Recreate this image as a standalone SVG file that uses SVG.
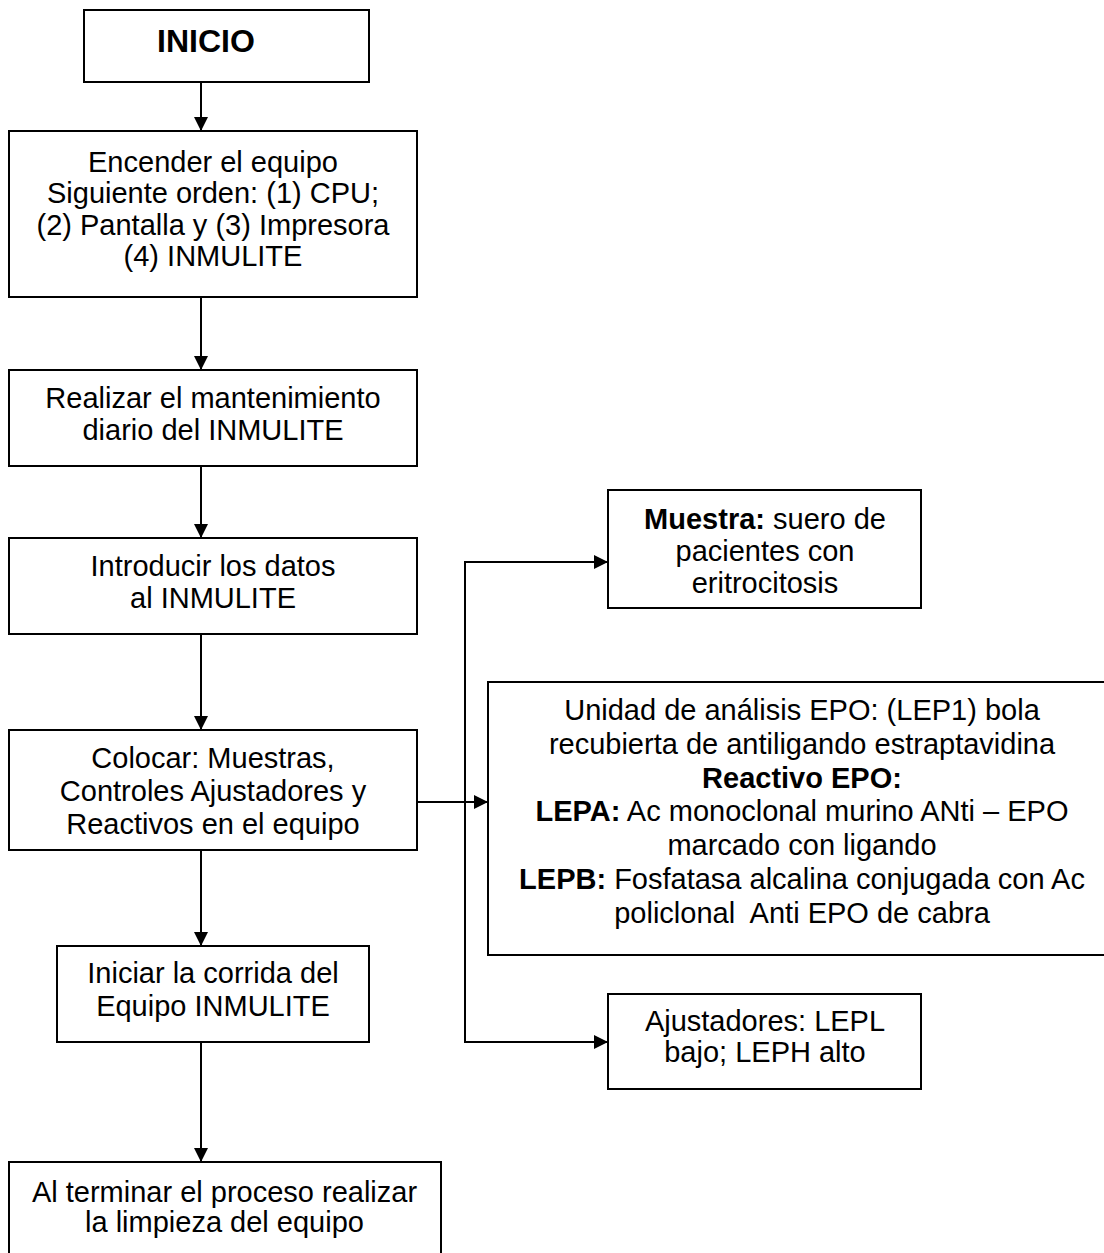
<svg xmlns="http://www.w3.org/2000/svg" width="1104" height="1253" viewBox="0 0 1104 1253">
<style>
.box{fill:#fff;stroke:#000;stroke-width:2}
.t{font-family:"Liberation Sans",Arial,sans-serif;font-size:29px;fill:#000;text-anchor:middle}
.b{font-weight:bold}
.c{fill:none;stroke:#000;stroke-width:2}
</style>
<defs>
<marker id="ah" markerUnits="userSpaceOnUse" markerWidth="14" markerHeight="14" viewBox="0 0 14 14" refX="14" refY="7" orient="auto">
<path d="M0,0 L14,7 L0,14 Z" fill="#000"/>
</marker>
</defs>
<rect width="1104" height="1253" fill="#fff"/>
<g id="connectors">
<line class="c" x1="201" y1="82" x2="201" y2="131" marker-end="url(#ah)"/>
<line class="c" x1="201" y1="297" x2="201" y2="370" marker-end="url(#ah)"/>
<line class="c" x1="201" y1="466" x2="201" y2="538" marker-end="url(#ah)"/>
<line class="c" x1="201" y1="634" x2="201" y2="730" marker-end="url(#ah)"/>
<line class="c" x1="201" y1="850" x2="201" y2="946" marker-end="url(#ah)"/>
<line class="c" x1="201" y1="1042" x2="201" y2="1162" marker-end="url(#ah)"/>
<line class="c" x1="417" y1="802" x2="488" y2="802" marker-end="url(#ah)"/>
<line class="c" x1="465" y1="561" x2="465" y2="1043"/>
<line class="c" x1="464" y1="562" x2="608" y2="562" marker-end="url(#ah)"/>
<line class="c" x1="464" y1="1042" x2="608" y2="1042" marker-end="url(#ah)"/>
</g>
<g id="inicio">
<rect class="box" x="84" y="10" width="285" height="72"/>
<text class="t b" x="206" y="52" style="font-size:32px">INICIO</text>
</g>
<g id="encender">
<rect class="box" x="9" y="131" width="408" height="166"/>
<text class="t" x="213" y="172">Encender el equipo</text>
<text class="t" x="213" y="203.3">Siguiente orden: (1) CPU;</text>
<text class="t" x="213" y="234.6">(2) Pantalla y (3) Impresora</text>
<text class="t" x="213" y="265.9">(4) INMULITE</text>
</g>
<g id="realizar">
<rect class="box" x="9" y="370" width="408" height="96"/>
<text class="t" x="213" y="408.3">Realizar el mantenimiento</text>
<text class="t" x="213" y="440">diario del INMULITE</text>
</g>
<g id="introducir">
<rect class="box" x="9" y="538" width="408" height="96"/>
<text class="t" x="213" y="575.7">Introducir los datos</text>
<text class="t" x="213" y="608">al INMULITE</text>
</g>
<g id="colocar">
<rect class="box" x="9" y="730" width="408" height="120"/>
<text class="t" x="213" y="768">Colocar: Muestras,</text>
<text class="t" x="213" y="801">Controles Ajustadores y</text>
<text class="t" x="213" y="834">Reactivos en el equipo</text>
</g>
<g id="iniciar">
<rect class="box" x="57" y="946" width="312" height="96"/>
<text class="t" x="213" y="983">Iniciar la corrida del</text>
<text class="t" x="213" y="1016">Equipo INMULITE</text>
</g>
<g id="terminar">
<rect class="box" x="9" y="1162" width="432" height="110"/>
<text class="t" x="224.5" y="1201.7">Al terminar el proceso realizar</text>
<text class="t" x="224.5" y="1232.3">la limpieza del equipo</text>
</g>
<g id="muestra">
<rect class="box" x="608" y="490" width="313" height="118"/>
<text class="t" x="765" y="529"><tspan class="b">Muestra:</tspan> suero de</text>
<text class="t" x="765" y="561">pacientes con</text>
<text class="t" x="765" y="593">eritrocitosis</text>
</g>
<g id="reactivos">
<rect class="box" x="488" y="682" width="628" height="273"/>
<text class="t" x="802" y="720">Unidad de análisis EPO: (LEP1) bola</text>
<text class="t" x="802" y="753.8">recubierta de antiligando estraptavidina</text>
<text class="t b" x="802" y="787.6">Reactivo EPO:</text>
<text class="t" x="802" y="821.4"><tspan class="b">LEPA:</tspan> Ac monoclonal murino ANti – EPO</text>
<text class="t" x="802" y="855.2">marcado con ligando</text>
<text class="t" x="802" y="889"><tspan class="b">LEPB:</tspan> Fosfatasa alcalina conjugada con Ac</text>
<text class="t" x="802" y="922.8" xml:space="preserve">policlonal  Anti EPO de cabra</text>
</g>
<g id="ajustadores">
<rect class="box" x="608" y="994" width="313" height="95"/>
<text class="t" x="765" y="1031">Ajustadores: LEPL</text>
<text class="t" x="765" y="1062">bajo; LEPH alto</text>
</g>
</svg>
